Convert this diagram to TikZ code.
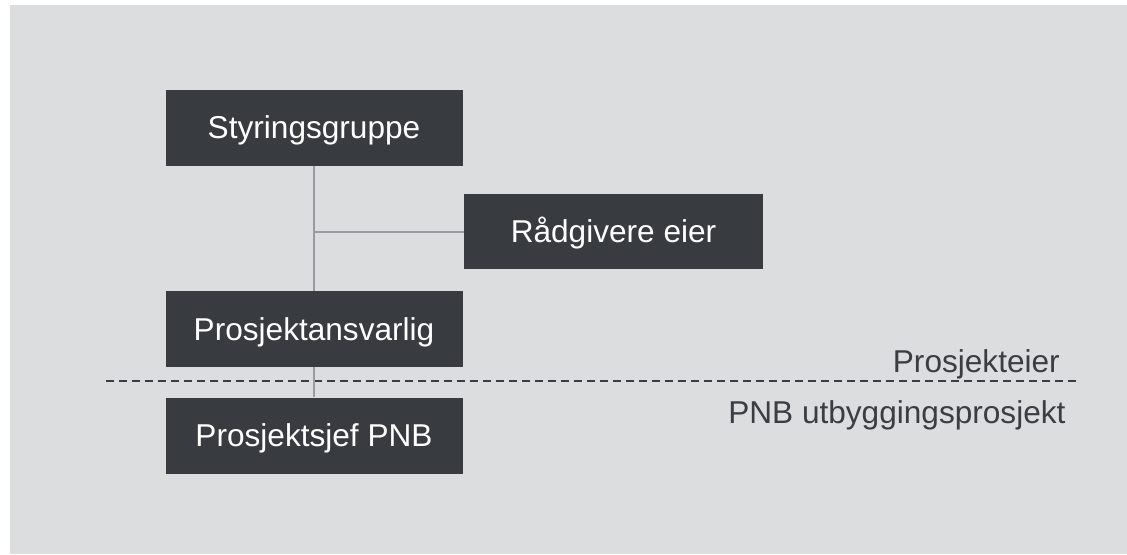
\documentclass[tikz,border=0pt]{standalone}
\usepackage{fontspec}
\setmainfont{Liberation Sans}
\usetikzlibrary{positioning}

\definecolor{bggrey}{RGB}{220,221,223}
\definecolor{boxgrey}{RGB}{56,59,64}
\definecolor{linegrey}{RGB}{152,156,161}
\definecolor{textgrey}{RGB}{58,61,66}

\tikzset{
  orgbox/.style={fill=boxgrey, text=white, minimum width=222.75pt, minimum height=57pt,
    inner sep=0pt, text height=17pt, text depth=0pt, font=\fontsize{23.7}{28}\selectfont},
  orgline/.style={draw=linegrey, line width=1.5pt},
  splitline/.style={draw=textgrey, line width=1.5pt, dash pattern=on 6pt off 3.75pt},
  sidelabel/.style={text=textgrey, inner sep=0pt, font=\fontsize{23.7}{28}\selectfont}
}

\begin{document}
\begin{tikzpicture}[x=0.75pt, y=-0.75pt]
    \fill[white] (0,0) rectangle (1127,554);
    \fill[bggrey] (10,5) rectangle (1127,554);

    % owner side / project side
    \coordinate (cutL) at (106,381);
    \coordinate (cutR) at (1078,381);
    \draw[splitline] (cutL) -- (cutR);
    \node[sidelabel, anchor=base east] (eier) at (1060,372) {Prosjekteier};
    \node[sidelabel, anchor=base west] (utb) at (728,423) {PNB utbyggingsprosjekt};

    \node[orgbox] (styr) at (314,127.5) {Styringsgruppe};
    \node[orgbox, below=93.75pt of styr] (ansv) {Prosjektansvarlig};
    \node[orgbox, below=22.5pt of ansv] (sjef) {Prosjektsjef PNB};
    \node[orgbox, minimum width=224.25pt, minimum height=56.25pt] (raad) at (613.5,231.5) {Rådgivere eier};

    \draw[orgline] (styr) -- (ansv);
    \draw[orgline] (ansv) -- (sjef);
    \draw[orgline] (raad) -- (raad -| styr);
\end{tikzpicture}
\end{document}
